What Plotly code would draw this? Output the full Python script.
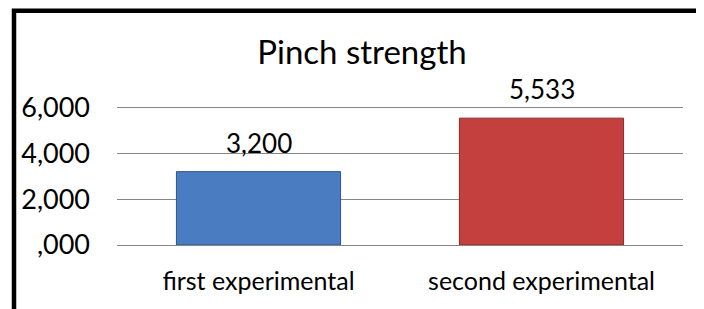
import plotly.graph_objects as go

categories = ["first experimental", "second experimental"]
values = [3200, 5533]
value_labels = ["3,200", "5,533"]
bar_colors = ["#4a7cc2", "#c4403f"]
bar_line_colors = ["#2c5590", "#8a2a29"]
y_tickvals = [0, 2000, 4000, 6000]
y_ticktext = [",000", "2,000", "4,000", "6,000"]
title_text = "Pinch strength"

# page has an 8px body margin; figure is drawn 8px in from the window edge
OFF = 8
W, H = 704 - OFF, 309 - OFF
Y_TOP = 6150
L, R, B = 117 - OFF, 21, 64
plot_bottom = 245 - OFF
px_per_unit = (245 - 107) / 6000
T = plot_bottom - Y_TOP * px_per_unit
pw, ph = W - L - R, H - T - B

FONT = "Lato, Carlito, 'Open Sans', sans-serif"
FS = 26

fig = go.Figure(go.Bar(
    x=categories, y=values,
    marker=dict(color=bar_colors, line=dict(color=bar_line_colors, width=1)),
    width=0.58,
))

annotations = [
    dict(x=c, y=v, text=t, xref="x", yref="y", showarrow=False,
         yanchor="bottom", yshift=11, font=dict(size=FS, family=FONT, color="#000000"))
    for c, v, t in zip(categories, values, value_labels)
]

fig.update_layout(
    width=W, height=H,
    margin=dict(l=L, r=R, t=T, b=B),
    paper_bgcolor="white", plot_bgcolor="white",
    showlegend=False,
    font=dict(family=FONT, size=FS, color="#000000"),
    title=dict(text=title_text, x=(362 - OFF) / W, xanchor="center", xref="container",
               y=1 - (52 - OFF) / H, yanchor="middle",
               font=dict(size=33, family=FONT, color="#000000")),
    yaxis=dict(range=[0, Y_TOP], tickvals=y_tickvals, ticktext=y_ticktext,
               showgrid=True, gridcolor="#868686", gridwidth=1.3,
               zeroline=False, showline=False, ticks="", ticklabelstandoff=26,
               tickfont=dict(size=27, family=FONT)),
    xaxis=dict(showline=True, linecolor="#868686", linewidth=1.3, ticks="",
               ticklabelstandoff=14, tickfont=dict(size=25, family=FONT)),
    annotations=annotations,
    shapes=[dict(type="rect", xref="paper", yref="paper",
                 x0=(14 - OFF - L) / pw, x1=(W + 30 - L) / pw,
                 y0=-(B + 30) / ph, y1=1 + (T - (10 - OFF)) / ph,
                 line=dict(color="#000000", width=4.5), layer="above")],
)

fig.write_html("out.html")
